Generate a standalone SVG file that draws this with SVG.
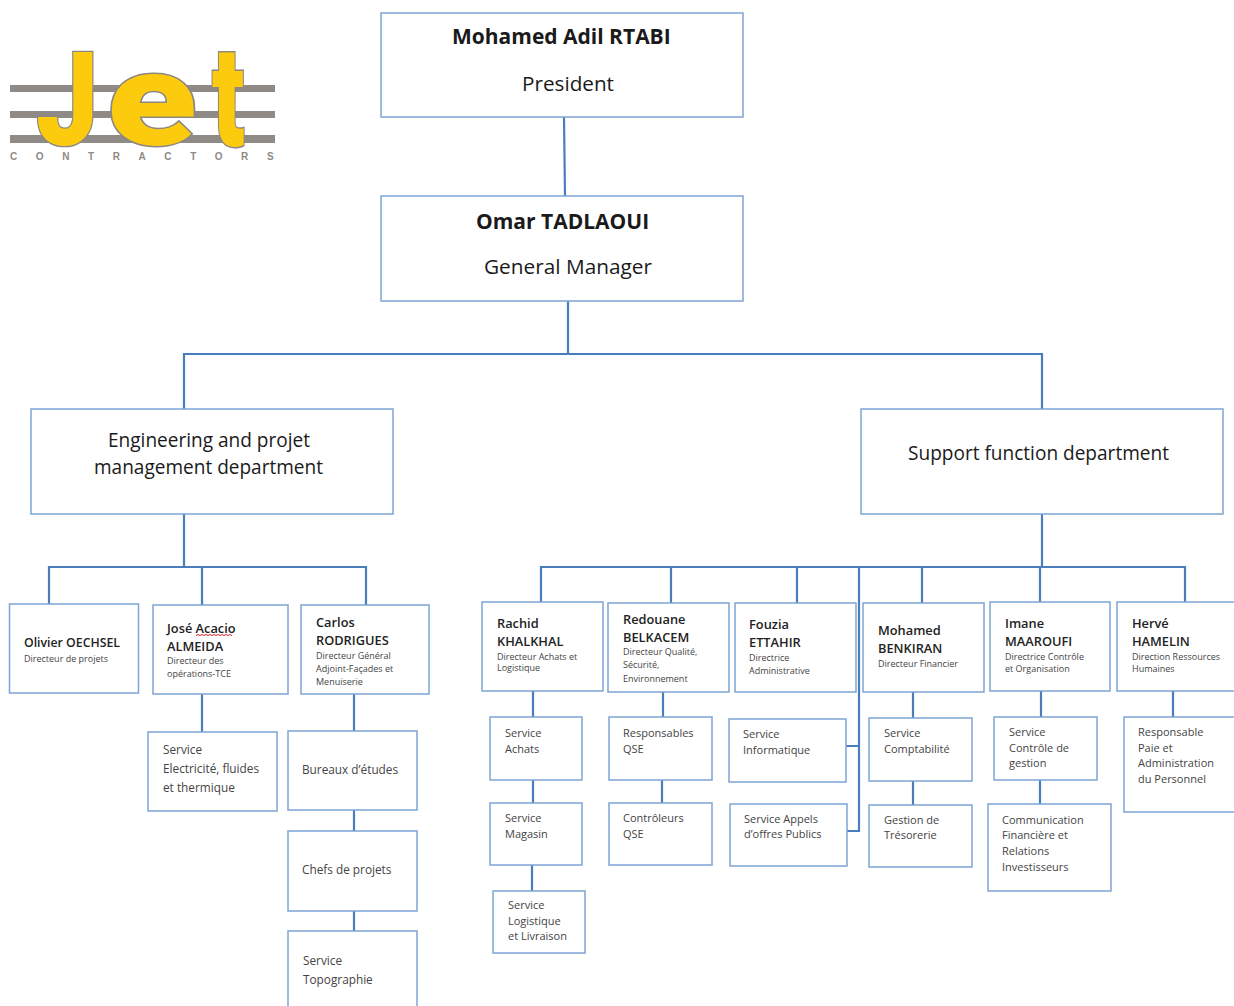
<svg xmlns="http://www.w3.org/2000/svg" width="1234" height="1006" viewBox="0 0 1234 1006">
<style>
text{font-family:"Open Sans","Liberation Sans",sans-serif;fill:#2b2b2b}
.box{fill:#fff;stroke:#7ea5d5;stroke-width:1.5}
.conn{fill:none;stroke:#4a7ebb;stroke-width:2.2}
.title{font-size:21px;font-weight:700;fill:#1a1a1a}
.big{font-size:20px;fill:#1a1a1a}
.name{font-size:12.8px;font-weight:600;fill:#222}
.sub{font-size:9px;fill:#444}
.svc{font-size:11.8px;fill:#444}
.svs{font-size:11px;fill:#444}
.logo{font-family:Roboto,"Liberation Sans",sans-serif;font-weight:900;fill:#fdcb0e;stroke:#8c8782;stroke-width:2.8;paint-order:stroke}
.bar{fill:#8f8a85}
.tag{font-family:"Liberation Sans",Arial,sans-serif;font-weight:700;font-size:10px;fill:#8f8a85;letter-spacing:18.6px}
</style>
<g id="logo">
<rect class="bar" x="10" y="85" width="265" height="7"/>
<rect class="bar" x="10" y="111" width="265" height="7"/>
<rect class="bar" x="10" y="135" width="265" height="8"/>
<text class="logo" transform="translate(36,145) scale(.84,.98)" font-size="132">J</text>
<text class="logo" transform="translate(107,145) scale(1.25,1.0)" font-size="132">e</text>
<text class="logo" transform="translate(212,145) scale(.72,1.07)" font-size="132">t</text>
<text class="tag" x="10" y="160">CONTRACTORS</text>
</g>
<g id="connectors" class="conn">
<path d="M564 117L565 196M568 301V354M184 409V354H1042V409M184 514V567M49 604V567H366V605M202 567V605M202 694V732M354 694V731M354 810V831M354 911V931"/>
<path d="M1042 514V567M541 602V567H1185V602M671 567V603M797 567V603M922 567V603M1040 567V602M859 567V831H847M859 746H846"/>
<path d="M533 691V717M533 780V803M532 865V891M663 692V717M662 780V803M913 692V718M913 781V805M1041 691V717M1040 780V804M1173 691V717"/>
</g>
<g id="president"><rect class="box" x="381" y="13" width="362" height="104"/><text class="title" x="452" y="44">Mohamed Adil RTABI</text><text class="big" x="522" y="91" textLength="92" lengthAdjust="spacingAndGlyphs">President</text></g>
<g id="general-manager"><rect class="box" x="381" y="196" width="362" height="105"/><text class="title" x="476" y="229">Omar TADLAOUI</text><text class="big" x="484" y="274" textLength="168" lengthAdjust="spacingAndGlyphs">General Manager</text></g>
<g id="engineering"><rect class="box" x="31" y="409" width="362" height="105"/><text class="big" x="108" y="447" textLength="202" lengthAdjust="spacingAndGlyphs">Engineering and projet</text><text class="big" x="94" y="474" textLength="229" lengthAdjust="spacingAndGlyphs">management department</text></g>
<g id="support"><rect class="box" x="861" y="409" width="362" height="105"/><text class="big" x="908" y="460" textLength="261" lengthAdjust="spacingAndGlyphs">Support function department</text></g>

<g id="olivier"><rect class="box" x="9.500" y="604" width="129" height="89"/><text class="name" x="24" y="647" textLength="96" lengthAdjust="spacingAndGlyphs">Olivier OECHSEL</text><text class="sub" x="24" y="662">Directeur de projets</text></g>
<g id="jose"><rect class="box" x="153" y="605" width="135" height="89"/><text class="name" x="167" y="633">José Acacio</text><path d="M196 635.500l2-1 2 1 2-1 2 1 2-1 2 1 2-1 2 1 2-1 2 1 2-1 2 1 2-1 2 1 2-1 2 1 2-1 2 1" fill="none" stroke="#d8232a" stroke-width="1"/><text class="name" x="167" y="651">ALMEIDA</text><text class="sub" x="167" y="664">Directeur des</text><text class="sub" x="167" y="677">opérations-TCE</text></g>
<g id="carlos"><rect class="box" x="301" y="605" width="128" height="89"/><text class="name" x="316" y="627">Carlos</text><text class="name" x="316" y="645">RODRIGUES</text><text class="sub" x="316" y="659">Directeur Général</text><text class="sub" x="316" y="672">Adjoint-Façades et</text><text class="sub" x="316" y="685">Menuiserie</text></g>
<g id="electricite"><rect class="box" x="148" y="732" width="129" height="79"/><text class="svc" x="163" y="754">Service</text><text class="svc" x="163" y="773">Electricité, fluides</text><text class="svc" x="163" y="792">et thermique</text></g>
<g id="bureaux"><rect class="box" x="288" y="731" width="129" height="79"/><text class="svc" x="302" y="774">Bureaux d’études</text></g>
<g id="chefs"><rect class="box" x="288" y="831" width="129" height="80"/><text class="svc" x="302" y="874">Chefs de projets</text></g>
<g id="topographie"><path class="box" d="M288 1006V931H417V1006"/><text class="svc" x="303" y="965">Service</text><text class="svc" x="303" y="984">Topographie</text></g>

<g id="rachid"><rect class="box" x="482" y="602" width="121" height="89"/><text class="name" x="497" y="628">Rachid</text><text class="name" x="497" y="646">KHALKHAL</text><text class="sub" x="497" y="660">Directeur Achats et</text><text class="sub" x="497" y="671">Logistique</text></g>
<g id="redouane"><rect class="box" x="608" y="603" width="121" height="89"/><text class="name" x="623" y="624">Redouane</text><text class="name" x="623" y="642">BELKACEM</text><text class="sub" x="623" y="655">Directeur Qualité,</text><text class="sub" x="623" y="668">Sécurité,</text><text class="sub" x="623" y="682">Environnement</text></g>
<g id="fouzia"><rect class="box" x="735" y="603" width="121" height="89"/><text class="name" x="749" y="629">Fouzia</text><text class="name" x="749" y="647">ETTAHIR</text><text class="sub" x="749" y="661">Directrice</text><text class="sub" x="749" y="674">Administrative</text></g>
<g id="mohamed"><rect class="box" x="863" y="603" width="121" height="89"/><text class="name" x="878" y="635">Mohamed</text><text class="name" x="878" y="653">BENKIRAN</text><text class="sub" x="878" y="667">Directeur Financier</text></g>
<g id="imane"><rect class="box" x="990" y="602" width="120" height="89"/><text class="name" x="1005" y="628">Imane</text><text class="name" x="1005" y="646">MAAROUFI</text><text class="sub" x="1005" y="660">Directrice Contrôle</text><text class="sub" x="1005" y="672">et Organisation</text></g>
<g id="herve"><rect class="box" x="1117" y="602" width="125" height="89"/><text class="name" x="1132" y="628">Hervé</text><text class="name" x="1132" y="646">HAMELIN</text><text class="sub" x="1132" y="660">Direction Ressources</text><text class="sub" x="1132" y="672">Humaines</text></g>

<g id="achats"><rect class="box" x="490" y="717" width="92" height="63"/><text class="svs" x="505" y="737">Service</text><text class="svs" x="505" y="753">Achats</text></g>
<g id="magasin"><rect class="box" x="490" y="803" width="92" height="62"/><text class="svs" x="505" y="822">Service</text><text class="svs" x="505" y="838">Magasin</text></g>
<g id="logistique"><rect class="box" x="493" y="891" width="92" height="62"/><text class="svs" x="508" y="909">Service</text><text class="svs" x="508" y="925">Logistique</text><text class="svs" x="508" y="940">et Livraison</text></g>
<g id="responsables-qse"><rect class="box" x="609" y="717" width="103" height="63"/><text class="svs" x="623" y="737">Responsables</text><text class="svs" x="623" y="753">QSE</text></g>
<g id="controleurs-qse"><rect class="box" x="609" y="803" width="103" height="62"/><text class="svs" x="623" y="822">Contrôleurs</text><text class="svs" x="623" y="838">QSE</text></g>
<g id="informatique"><rect class="box" x="729" y="719" width="117" height="63"/><text class="svs" x="743" y="738">Service</text><text class="svs" x="743" y="754">Informatique</text></g>
<g id="appels"><rect class="box" x="730" y="804" width="117" height="62"/><text class="svs" x="744" y="823">Service Appels</text><text class="svs" x="744" y="838">d’offres Publics</text></g>
<g id="comptabilite"><rect class="box" x="869" y="718" width="103" height="63"/><text class="svs" x="884" y="737">Service</text><text class="svs" x="884" y="753">Comptabilité</text></g>
<g id="tresorerie"><rect class="box" x="869" y="805" width="103" height="62"/><text class="svs" x="884" y="824">Gestion de</text><text class="svs" x="884" y="839">Trésorerie</text></g>
<g id="controle-gestion"><rect class="box" x="994" y="717" width="103" height="63"/><text class="svs" x="1009" y="736">Service</text><text class="svs" x="1009" y="752">Contrôle de</text><text class="svs" x="1009" y="767">gestion</text></g>
<g id="communication"><rect class="box" x="988" y="804" width="123" height="87"/><text class="svs" x="1002" y="824">Communication</text><text class="svs" x="1002" y="839">Financière et</text><text class="svs" x="1002" y="855">Relations</text><text class="svs" x="1002" y="871">Investisseurs</text></g>
<g id="responsable-paie"><rect class="box" x="1124" y="717" width="118" height="95"/><text class="svs" x="1138" y="736">Responsable</text><text class="svs" x="1138" y="752">Paie et</text><text class="svs" x="1138" y="767">Administration</text><text class="svs" x="1138" y="783">du Personnel</text></g>
</svg>
